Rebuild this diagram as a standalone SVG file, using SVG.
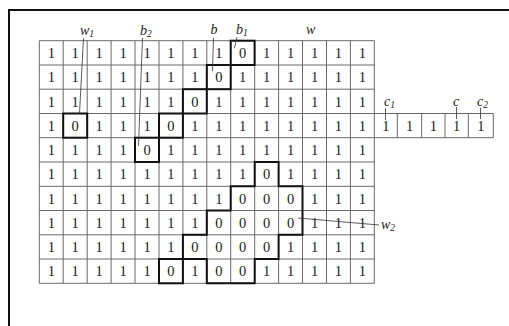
<svg xmlns="http://www.w3.org/2000/svg" width="509" height="326" viewBox="0 0 509 326">
<style>
.g{stroke:#6a6a6a;stroke-width:1;fill:none}
.b{stroke:#111;stroke-width:2;fill:none}
.l{stroke:#333;stroke-width:0.8;fill:none}
.d{font-family:"Liberation Serif","Times New Roman",serif;font-size:14.5px;fill:#1a1a1a;text-anchor:middle}
.lab{font-family:"Liberation Serif","Times New Roman",serif;font-size:14px;font-style:italic;fill:#222}
.sub{font-size:9.5px}
</style>
<rect width="509" height="326" fill="#fff"/>
<path d="M9,326 V10 H509" stroke="#111" stroke-width="2" fill="none"/>
<g id="grid" class="g">
<path d="M39.3,40.7 V283.3 M63.2,40.7 V283.3 M87.2,40.7 V283.3 M111.1,40.7 V283.3 M135,40.7 V283.3 M159,40.7 V283.3 M182.9,40.7 V283.3 M206.8,40.7 V283.3 M230.7,40.7 V283.3 M254.7,40.7 V283.3 M278.6,40.7 V283.3 M302.5,40.7 V283.3 M326.5,40.7 V283.3 M350.4,40.7 V283.3 M374.3,40.7 V283.3"/>
<path d="M39.3,40.7 H374.3 M39.3,65 H374.3 M39.3,89.2 H374.3 M39.3,113.5 H493.3 M39.3,137.7 H493.3 M39.3,162 H374.3 M39.3,186.3 H374.3 M39.3,210.5 H374.3 M39.3,234.8 H374.3 M39.3,259 H374.3 M39.3,283.3 H374.3"/>
<path d="M397.3,113.5 V137.7 M421.7,113.5 V137.7 M445,113.5 V137.7 M468.3,113.5 V137.7 M493.3,113.5 V137.7"/>
</g>
<g id="outlines" class="b">
<rect x="230.7" y="40.7" width="23.9" height="24.3"/>
<rect x="206.8" y="65" width="23.9" height="24.2"/>
<rect x="182.9" y="89.2" width="23.9" height="24.3"/>
<rect x="159" y="113.5" width="23.9" height="24.2"/>
<rect x="135" y="137.7" width="24" height="24.3"/>
<rect x="63.2" y="113.5" width="24" height="24.2"/>
<rect x="159" y="259" width="23.9" height="24.3"/>
<path d="M254.7,162 H278.6 V186.3 H302.5 V234.8 H278.6 V259 H254.7 V283.3 H206.8 V259 H182.9 V234.8 H206.8 V210.5 H230.7 V186.3 H254.7 Z"/>
</g>
<g id="cells" class="d">
<text x="51.3" y="58">1</text><text x="75.2" y="58">1</text><text x="99.1" y="58">1</text><text x="123.1" y="58">1</text><text x="147" y="58">1</text><text x="170.9" y="58">1</text><text x="194.8" y="58">1</text><text x="218.8" y="58">1</text><text x="242.7" y="58">0</text><text x="266.6" y="58">1</text><text x="290.6" y="58">1</text><text x="314.5" y="58">1</text><text x="338.4" y="58">1</text><text x="362.4" y="58">1</text>
<text x="51.3" y="82.3">1</text><text x="75.2" y="82.3">1</text><text x="99.1" y="82.3">1</text><text x="123.1" y="82.3">1</text><text x="147" y="82.3">1</text><text x="170.9" y="82.3">1</text><text x="194.8" y="82.3">1</text><text x="218.8" y="82.3">0</text><text x="242.7" y="82.3">1</text><text x="266.6" y="82.3">1</text><text x="290.6" y="82.3">1</text><text x="314.5" y="82.3">1</text><text x="338.4" y="82.3">1</text><text x="362.4" y="82.3">1</text>
<text x="51.3" y="106.5">1</text><text x="75.2" y="106.5">1</text><text x="99.1" y="106.5">1</text><text x="123.1" y="106.5">1</text><text x="147" y="106.5">1</text><text x="170.9" y="106.5">1</text><text x="194.8" y="106.5">0</text><text x="218.8" y="106.5">1</text><text x="242.7" y="106.5">1</text><text x="266.6" y="106.5">1</text><text x="290.6" y="106.5">1</text><text x="314.5" y="106.5">1</text><text x="338.4" y="106.5">1</text><text x="362.4" y="106.5">1</text>
<text x="51.3" y="130.8">1</text><text x="75.2" y="130.8">0</text><text x="99.1" y="130.8">1</text><text x="123.1" y="130.8">1</text><text x="147" y="130.8">1</text><text x="170.9" y="130.8">0</text><text x="194.8" y="130.8">1</text><text x="218.8" y="130.8">1</text><text x="242.7" y="130.8">1</text><text x="266.6" y="130.8">1</text><text x="290.6" y="130.8">1</text><text x="314.5" y="130.8">1</text><text x="338.4" y="130.8">1</text><text x="362.4" y="130.8">1</text>
<text x="385.8" y="130.8">1</text><text x="409.5" y="130.8">1</text><text x="433.4" y="130.8">1</text><text x="456.7" y="130.8">1</text><text x="480.8" y="130.8">1</text>
<text x="51.3" y="155">1</text><text x="75.2" y="155">1</text><text x="99.1" y="155">1</text><text x="123.1" y="155">1</text><text x="147" y="155">0</text><text x="170.9" y="155">1</text><text x="194.8" y="155">1</text><text x="218.8" y="155">1</text><text x="242.7" y="155">1</text><text x="266.6" y="155">1</text><text x="290.6" y="155">1</text><text x="314.5" y="155">1</text><text x="338.4" y="155">1</text><text x="362.4" y="155">1</text>
<text x="51.3" y="179.3">1</text><text x="75.2" y="179.3">1</text><text x="99.1" y="179.3">1</text><text x="123.1" y="179.3">1</text><text x="147" y="179.3">1</text><text x="170.9" y="179.3">1</text><text x="194.8" y="179.3">1</text><text x="218.8" y="179.3">1</text><text x="242.7" y="179.3">1</text><text x="266.6" y="179.3">0</text><text x="290.6" y="179.3">1</text><text x="314.5" y="179.3">1</text><text x="338.4" y="179.3">1</text><text x="362.4" y="179.3">1</text>
<text x="51.3" y="203.6">1</text><text x="75.2" y="203.6">1</text><text x="99.1" y="203.6">1</text><text x="123.1" y="203.6">1</text><text x="147" y="203.6">1</text><text x="170.9" y="203.6">1</text><text x="194.8" y="203.6">1</text><text x="218.8" y="203.6">1</text><text x="242.7" y="203.6">0</text><text x="266.6" y="203.6">0</text><text x="290.6" y="203.6">0</text><text x="314.5" y="203.6">1</text><text x="338.4" y="203.6">1</text><text x="362.4" y="203.6">1</text>
<text x="51.3" y="227.8">1</text><text x="75.2" y="227.8">1</text><text x="99.1" y="227.8">1</text><text x="123.1" y="227.8">1</text><text x="147" y="227.8">1</text><text x="170.9" y="227.8">1</text><text x="194.8" y="227.8">1</text><text x="218.8" y="227.8">0</text><text x="242.7" y="227.8">0</text><text x="266.6" y="227.8">0</text><text x="290.6" y="227.8">0</text><text x="314.5" y="227.8">1</text><text x="338.4" y="227.8">1</text><text x="362.4" y="227.8">1</text>
<text x="51.3" y="252.1">1</text><text x="75.2" y="252.1">1</text><text x="99.1" y="252.1">1</text><text x="123.1" y="252.1">1</text><text x="147" y="252.1">1</text><text x="170.9" y="252.1">1</text><text x="194.8" y="252.1">0</text><text x="218.8" y="252.1">0</text><text x="242.7" y="252.1">0</text><text x="266.6" y="252.1">0</text><text x="290.6" y="252.1">1</text><text x="314.5" y="252.1">1</text><text x="338.4" y="252.1">1</text><text x="362.4" y="252.1">1</text>
<text x="51.3" y="276.3">1</text><text x="75.2" y="276.3">1</text><text x="99.1" y="276.3">1</text><text x="123.1" y="276.3">1</text><text x="147" y="276.3">1</text><text x="170.9" y="276.3">0</text><text x="194.8" y="276.3">1</text><text x="218.8" y="276.3">0</text><text x="242.7" y="276.3">0</text><text x="266.6" y="276.3">1</text><text x="290.6" y="276.3">1</text><text x="314.5" y="276.3">1</text><text x="338.4" y="276.3">1</text><text x="362.4" y="276.3">1</text>
</g>
<g id="connectors" class="l">
<path d="M83.5,38 L79.5,113.5"/>
<path d="M142.5,38 L138.5,146"/>
<path d="M213.5,38 L212.5,71"/>
<path d="M237,37 L234.5,48"/>
<path d="M385.5,108 V120"/>
<path d="M456.5,107 V119"/>
<path d="M480.5,108 V119"/>
<path d="M298,218 L379,225"/>
</g>
<g id="labels" class="lab">
<text x="80" y="35">w<tspan class="sub" dy="2">1</tspan></text>
<text x="140" y="35">b<tspan class="sub" dy="2">2</tspan></text>
<text x="210.5" y="34">b</text>
<text x="236" y="34">b<tspan class="sub" dy="2">1</tspan></text>
<text x="306" y="34">w</text>
<text x="384" y="106">c<tspan class="sub" dy="2">1</tspan></text>
<text x="453" y="106">c</text>
<text x="477" y="106">c<tspan class="sub" dy="2">2</tspan></text>
<text x="381" y="229">w<tspan class="sub" dy="2">2</tspan></text>
</g>
</svg>
